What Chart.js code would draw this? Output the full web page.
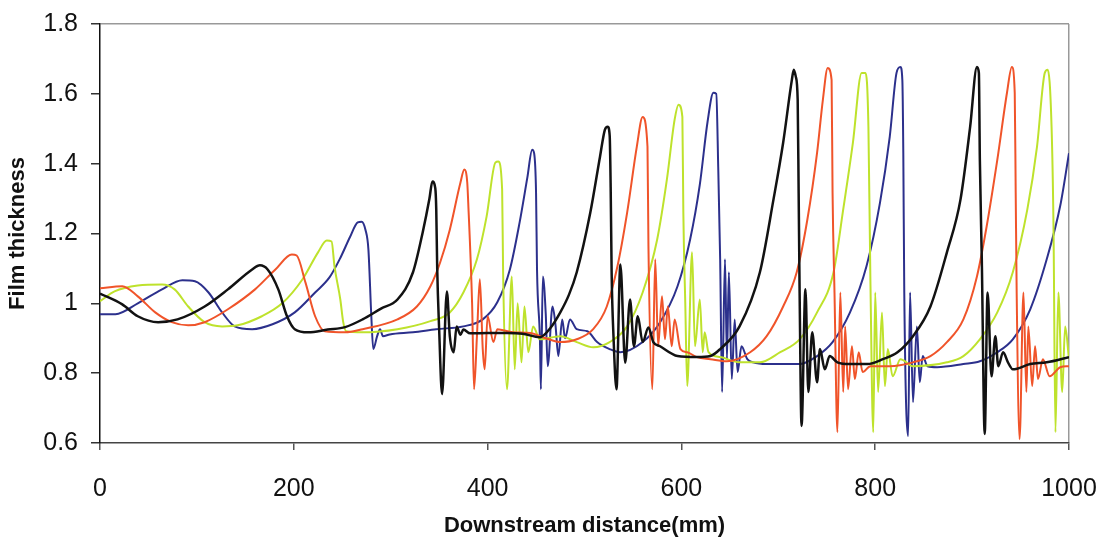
<!DOCTYPE html>
<html>
<head>
<meta charset="utf-8">
<script src="https://cdn.jsdelivr.net/npm/chart.js@4.4.0/dist/chart.umd.min.js"></script>
<style>
  body { margin: 0; background: #fff; }
  #wrap { width: 1111px; height: 539px; position: relative; }
</style>
</head>
<body>
<div id="wrap"><canvas id="chart"></canvas></div>
<script>
// Film thickness profiles (x in mm, y = thickness)
const blackX = [0, 23, 39, 60, 80, 108, 132, 157, 165, 173, 184, 193, 201, 215, 235, 253, 271, 290, 307, 323, 333, 340, 343, 346, 347, 348, 350, 353, 358, 361, 365, 368, 372, 375, 382, 400, 420, 436, 454, 465, 475, 484, 492, 506, 516, 521, 524, 526, 527, 528, 530, 533, 537, 542, 547, 551, 555, 560, 566, 571, 578, 596, 616, 630, 640, 660, 681, 695, 705, 714, 716, 718, 720, 721, 722, 724, 728, 731, 735, 740, 743, 748, 753, 761, 774, 792, 808, 823, 839, 857, 874, 888, 898, 905, 907, 908, 910, 913, 916, 920, 924, 927, 932, 937, 942, 960, 977, 1000];
const blackY = [1.028, 0.997, 0.963, 0.946, 0.954, 0.991, 1.04, 1.097, 1.109, 1.097, 1.04, 0.963, 0.926, 0.917, 0.925, 0.932, 0.954, 0.985, 1.011, 1.089, 1.203, 1.3, 1.349, 1.33, 1.27, 1.1, 0.926, 0.74, 1.034, 0.906, 0.86, 0.934, 0.91, 0.925, 0.914, 0.915, 0.915, 0.913, 0.903, 0.93, 0.974, 1.025, 1.089, 1.26, 1.42, 1.497, 1.506, 1.48, 1.334, 1.089, 0.9, 0.754, 1.111, 0.83, 1.011, 0.877, 0.963, 0.889, 0.931, 0.889, 0.877, 0.849, 0.846, 0.849, 0.869, 0.934, 1.089, 1.297, 1.46, 1.64, 1.669, 1.65, 1.583, 1.317, 1.031, 0.649, 1.04, 0.746, 0.917, 0.774, 0.869, 0.811, 0.849, 0.831, 0.826, 0.826, 0.84, 0.86, 0.906, 0.991, 1.146, 1.297, 1.506, 1.677, 1.66, 1.411, 1.126, 0.626, 1.031, 0.791, 0.906, 0.82, 0.86, 0.831, 0.811, 0.826, 0.831, 0.846];

const redX = [0, 23, 39, 57, 74, 91, 108, 132, 160, 181, 198, 203, 212, 222, 232, 253, 271, 307, 327, 341, 351, 361, 372, 376, 379, 380, 384, 386, 389, 392, 395, 397, 400, 406, 410, 426, 444, 457, 475, 492, 509, 523, 534, 544, 554, 560, 565, 566, 570, 573, 576, 580, 583, 586, 590, 593, 599, 606, 616, 630, 647, 671, 688, 705, 719, 730, 740, 746, 751, 755, 756, 758, 761, 764, 767, 769, 772, 776, 779, 783, 787, 795, 815, 839, 857, 874, 891, 905, 915, 926, 936, 941, 944, 945, 946, 949, 953, 956, 958, 962, 965, 968, 973, 980, 991, 1000];
const redY = [1.043, 1.049, 1.02, 0.974, 0.946, 0.937, 0.946, 0.983, 1.04, 1.097, 1.14, 1.137, 1.06, 0.963, 0.92, 0.917, 0.926, 0.954, 0.991, 1.049, 1.117, 1.211, 1.346, 1.383, 1.346, 1.289, 1.0, 0.754, 0.906, 1.069, 0.869, 0.811, 0.963, 0.889, 0.926, 0.917, 0.915, 0.903, 0.889, 0.897, 0.926, 0.991, 1.106, 1.26, 1.449, 1.534, 1.449, 1.163, 0.754, 1.126, 0.877, 1.02, 0.897, 0.991, 0.877, 0.954, 0.869, 0.86, 0.846, 0.84, 0.834, 0.86, 0.906, 0.991, 1.089, 1.24, 1.431, 1.583, 1.674, 1.64, 1.317, 1.031, 0.631, 1.031, 0.746, 0.934, 0.754, 0.877, 0.783, 0.86, 0.803, 0.82, 0.82, 0.831, 0.849, 0.889, 0.954, 1.077, 1.22, 1.411, 1.603, 1.677, 1.603, 1.317, 1.031, 0.611, 1.031, 0.746, 0.934, 0.763, 0.877, 0.783, 0.84, 0.791, 0.817, 0.82];

const greenX = [0, 15, 39, 64, 77, 91, 108, 126, 142, 167, 188, 209, 225, 234, 239, 242, 248, 251, 254, 271, 307, 341, 361, 375, 389, 399, 408, 411, 415, 416, 420, 425, 428, 431, 435, 438, 442, 447, 454, 475, 492, 509, 526, 544, 560, 575, 585, 593, 597, 601, 602, 604, 606, 611, 614, 619, 622, 624, 628, 640, 660, 681, 702, 722, 740, 757, 767, 777, 786, 790, 793, 795, 798, 800, 803, 807, 810, 813, 818, 826, 839, 874, 891, 908, 926, 942, 957, 967, 975, 978, 982, 984, 986, 989, 993, 996, 1000];
const greenY = [1.006, 1.034, 1.051, 1.054, 1.04, 0.991, 0.946, 0.934, 0.937, 0.963, 1.0, 1.069, 1.146, 1.18, 1.177, 1.106, 1.011, 0.946, 0.92, 0.917, 0.926, 0.949, 0.974, 1.031, 1.126, 1.249, 1.403, 1.406, 1.326, 1.089, 0.754, 1.077, 0.811, 1.0, 0.831, 0.991, 0.86, 0.934, 0.897, 0.906, 0.889, 0.874, 0.889, 0.934, 1.031, 1.183, 1.354, 1.526, 1.569, 1.534, 1.26, 1.0, 0.763, 1.146, 0.877, 1.011, 0.86, 0.917, 0.86, 0.846, 0.831, 0.831, 0.86, 0.897, 0.974, 1.089, 1.269, 1.46, 1.66, 1.66, 1.506, 1.077, 0.631, 1.031, 0.746, 0.974, 0.763, 0.869, 0.791, 0.84, 0.82, 0.831, 0.849, 0.897, 0.974, 1.089, 1.269, 1.449, 1.66, 1.669, 1.506, 1.22, 0.631, 1.031, 0.746, 0.934, 0.84];

const blueX = [0, 16, 39, 64, 85, 98, 112, 126, 139, 157, 178, 201, 222, 237, 248, 258, 266, 270, 274, 277, 280, 282, 286, 289, 292, 299, 323, 347, 375, 395, 410, 423, 433, 441, 446, 448, 450, 451, 454, 455, 457, 460, 462, 467, 470, 473, 477, 480, 485, 492, 503, 513, 526, 537, 560, 578, 596, 609, 619, 627, 633, 636, 638, 640, 642, 645, 647, 649, 652, 655, 658, 662, 668, 674, 688, 722, 740, 756, 774, 791, 805, 815, 822, 826, 828, 829, 830, 834, 836, 839, 843, 846, 849, 854, 864, 891, 908, 926, 942, 960, 977, 991, 1000];
const blueY = [0.969, 0.969, 1.0, 1.04, 1.066, 1.063, 1.031, 0.974, 0.934, 0.926, 0.94, 0.974, 1.031, 1.075, 1.13, 1.19, 1.232, 1.234, 1.21, 1.154, 0.963, 0.869, 0.906, 0.926, 0.906, 0.911, 0.917, 0.926, 0.934, 0.954, 1.003, 1.097, 1.231, 1.36, 1.44, 1.43, 1.317, 1.097, 0.897, 0.754, 1.077, 0.97, 0.82, 0.991, 0.94, 0.849, 0.954, 0.9, 0.954, 0.926, 0.92, 0.889, 0.869, 0.86, 0.889, 0.946, 1.049, 1.183, 1.34, 1.52, 1.603, 1.6, 1.39, 1.126, 0.746, 1.126, 0.84, 1.089, 0.783, 0.954, 0.803, 0.877, 0.84, 0.831, 0.826, 0.826, 0.849, 0.889, 0.974, 1.106, 1.289, 1.477, 1.66, 1.677, 1.64, 1.431, 1.031, 0.62, 1.031, 0.717, 0.934, 0.774, 0.849, 0.82, 0.817, 0.826, 0.834, 0.86, 0.897, 0.983, 1.126, 1.28, 1.43];

// Axis ticks
const xTicks = [0, 200, 400, 600, 800, 1000];
const xTickLabels = ['0', '200', '400', '600', '800', '1000'];
const yTickLabels = ['0.6', '0.8', '1', '1.2', '1.4', '1.6', '1.8'];

// Turn two arrays into {x, y} points
function toPoints(xs, ys) {
  return xs.map((x, i) => ({ x: x, y: ys[i] }));
}

const series = [
  { name: 'black', xs: blackX, ys: blackY, color: 'rgb(18,18,18)', width: 2.5 },
  { name: 'red', xs: redX, ys: redY, color: 'rgb(240,84,42)', width: 2 },
  { name: 'green', xs: greenX, ys: greenY, color: 'rgb(190,226,44)', width: 2 },
  { name: 'blue', xs: blueX, ys: blueY, color: 'rgb(44,48,140)', width: 2 }
];

const tickFont = { family: 'Liberation Sans, Arial, sans-serif', size: 25 };
const titleFont = { family: 'Liberation Sans, Arial, sans-serif', size: 22, weight: 'bold' };

new Chart(document.getElementById('chart'), {
  type: 'line',
  data: {
    datasets: series.map(s => ({
      label: s.name,
      data: toPoints(s.xs, s.ys),
      borderColor: s.color,
      borderWidth: s.width,
      pointRadius: 0,
      cubicInterpolationMode: 'monotone',
      fill: false
    }))
  },
  options: {
    responsive: true,
    maintainAspectRatio: false,
    animation: false,
    layout: { padding: { top: 24, right: 42, left: 0, bottom: 0 } },
    plugins: {
      legend: { display: false },
      tooltip: { enabled: false }
    },
    scales: {
      x: {
        type: 'linear',
        min: 0,
        max: 1000,
        // fixed axis height, and no extra room for the end labels
        afterFit: scale => {
          scale.height = 96;
          scale.paddingLeft = 0;
          scale.paddingRight = 0;
        },
        afterBuildTicks: scale => { scale.ticks = xTicks.map(v => ({ value: v })); },
        ticks: {
          font: tickFont,
          color: '#111',
          padding: 24,
          maxRotation: 0,
          callback: (value, index) => xTickLabels[index]
        },
        grid: {
          drawOnChartArea: true,
          color: ctx => (ctx.tick && ctx.tick.value === 1000 ? '#999' : 'rgba(0,0,0,0)'),
          tickColor: '#555',
          tickLength: 7,
          lineWidth: 1.5
        },
        border: { color: '#444', width: 1.5 },
        title: {
          display: true,
          text: 'Downstream distance(mm)',
          font: titleFont,
          color: '#111',
          padding: { top: 0, bottom: 0 }
        }
      },
      y: {
        min: 0.6,
        max: 1.8,
        afterFit: scale => {
          scale.width = 100;
          scale.paddingTop = 0;
          scale.paddingBottom = 0;
        },
        ticks: {
          stepSize: 0.2,
          font: tickFont,
          color: '#111',
          padding: 13,
          callback: (value, index) => yTickLabels[index]
        },
        grid: {
          drawOnChartArea: true,
          color: ctx => (ctx.tick && ctx.index === yTickLabels.length - 1 ? '#999' : 'rgba(0,0,0,0)'),
          tickColor: '#333',
          tickLength: 9,
          lineWidth: 1.5
        },
        border: { color: '#111', width: 1.5 },
        title: {
          display: true,
          text: 'Film thickness',
          font: titleFont,
          color: '#111',
          padding: { top: 5, bottom: 0 }
        }
      }
    }
  }
});
</script>
</body>
</html>
